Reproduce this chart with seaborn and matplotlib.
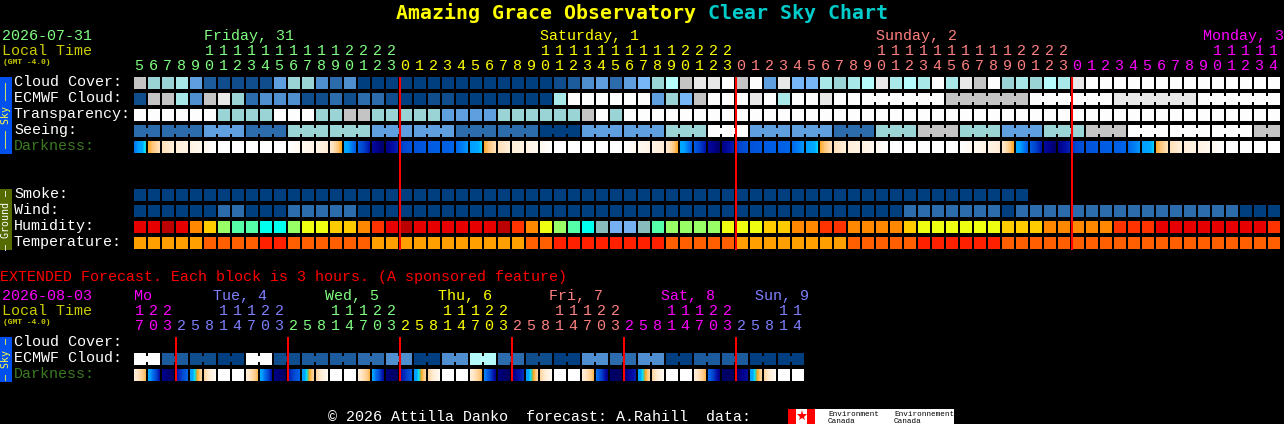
import numpy as np
import matplotlib
matplotlib.use("Agg")
import matplotlib.pyplot as plt
from matplotlib.colors import ListedColormap, LinearSegmentedColormap
from matplotlib.patches import Rectangle
import seaborn as sns

WIDTH, HEIGHT = 1284, 424
X0 = 134
PITCH = 14
CELL = 12
MONO = "Liberation Mono"

# Level colours shared by the sky rows (clear -> overcast), last one is an in-between blue
sky_colors = ["#003f7f", "#0f4d8d", "#2c6cac", "#4f8fcf", "#5f9fdf", "#77b7f7",
              "#9ad4d4", "#a8e8e8", "#b5fbfb", "#c4c4c4", "#e8e8e8", "#fdfdfd", "#1c5c9c"]
humidity_colors = ["#bb0000", "#e60000", "#ff3300", "#ff8800", "#ffcc00", "#eeff11",
                   "#99ff66", "#55ffaa", "#00ffee", "#88bbbb", "#77b0f0"]
temp_colors = ["#ffa000", "#ff5f00", "#ff2000"]

# Hourly rows
cloud = [9, 6, 6, 7, 4, 12, 1, 1, 1, 1, 4, 6, 6, 3, 2, 3, 0, 0, 0, 0, 0,
         0, 0, 0, 0, 0, 0, 0, 0, 0, 1,
         12, 3, 4, 2, 4, 5, 6, 8, 9, 10, 10, 11, 9, 11, 4, 10, 5, 5, 7, 6, 7,
         8, 10, 7, 8, 7, 11, 7, 10, 9, 11, 6, 7, 6, 8, 7, 10,
         11, 11, 11, 11, 11, 11, 11, 11, 11, 11, 11, 11, 11, 11]
ecmwf = [1, 9, 9, 7, 3, 9, 10, 6, 2, 3, 3, 3, 1, 1, 2, 1, 2, 2, 1, 0, 0,
         1, 1, 0, 0, 0, 0, 0, 0, 0,
         7, 11, 11, 11, 11, 11, 11,
         4, 6, 5, 9, 11, 11, 11, 10, 11, 7, 11, 11, 10, 11, 11,
         11, 11, 11, 11, 11, 11, 9, 9, 9, 9, 9, 9, 11, 11, 11, 11, 11, 11,
         10, 10, 10, 10, 10, 10, 11, 11, 11, 11, 11, 11]
ecmwf_runs = [1] * 52 + [6] * 5
transparency = [11, 11, 11, 11, 11, 11, 6, 6, 6, 6, 11, 11, 11, 6, 6, 9, 9,
                6, 6, 6, 6, 6, 4, 4, 4, 4, 6, 6, 6, 6, 6, 6, 9, 11, 6,
                11, 11, 11, 11, 11, 11, 11, 11, 11, 11, 11, 11, 11, 11, 11, 11,
                11, 11, 11, 11, 11, 11, 11, 11, 11, 11, 11, 11, 11, 11, 11, 11,
                11, 11, 11, 11, 11, 11, 11, 11, 11, 11, 11, 11, 11, 11, 11]
seeing_blocks = [2, 2, 4, 2, 6, 6, 4, 4, 2, 2, 0, 4, 4, 6, 11, 4, 4, 2, 6, 9, 6, 4, 6, 9, 11, 11, 11, 9]
seeing_runs = [2] + [3] * 26 + [2]
smoke = [0] * 64
wind = [0, 0, 0, 0, 0, 0, 2, 2, 0, 0, 0, 2, 2, 2, 2, 2, 0, 0, 0, 0, 0,
        0, 0, 0, 0, 0, 0, 0, 0, 0, 0, 0, 0, 0, 0, 0, 0, 0, 0, 0, 0,
        0, 0, 0, 0, 0, 0, 0, 0, 0, 0, 0, 0, 0, 0,
        2, 2, 2, 2, 2, 2, 2, 0, 2, 2, 2, 2, 2, 2, 2, 2, 2, 2, 2, 2, 2, 2, 2, 2,
        0, 0, 0]
humidity = [1, 1, 0, 1, 3, 4, 6, 7, 7, 8, 8, 6, 5, 5, 4, 4, 3, 2, 1, 0, 1,
            1, 1, 1, 1, 1, 0, 2, 3, 5, 6, 7, 8, 9, 10, 10, 9, 7, 6, 6, 6, 6,
            5, 5, 5, 4, 4, 3, 3, 2, 2, 3, 3, 3, 3, 4, 5, 5, 5, 5, 5, 5, 4, 4, 4,
            3, 3, 3, 3, 3, 2, 2, 2, 1, 1, 1, 1, 1, 1, 1, 1, 2]
temperature = [0, 0, 0, 0, 0, 1, 1, 1, 1, 2, 2, 1, 1, 1, 1, 1, 1, 0, 0, 0, 0,
               0, 0, 0, 0, 0, 0, 0, 1, 1, 2, 2, 2, 2, 2, 2, 2, 2, 1, 1, 1, 1, 1,
               0, 0, 0, 0, 0, 0, 0, 0, 1, 1, 1, 1, 1, 2, 2, 2, 2, 2, 2,
               1, 1, 1, 1, 1, 1, 1, 1, 1, 1, 1, 1, 1, 1, 1, 1, 1, 1, 1, 1]

# Darkness, left and right end of each block (roughly limiting magnitude)
dark_start = [2.8,
              -0.3, -2, -3, -3.6, -4.3, -5, -5, -5, -5, -5, -5, -4.4, -3.7, -2.6, 1.3, 3.4, 5.2, 5.6, 4.2, 3.7, 3.4, 3.3, 3.0, 2.1,
              -0.3, -2, -3, -3.6, -4.3, -5, -5, -5, -5, -5, -5, -4.4, -3.7, -2.6, 1.3, 3.4, 5.2, 5.6, 4.2, 3.7, 3.4, 3.3, 3.0, 2.1,
              -0.3, -2, -3, -3.6, -4.3, -5, -5, -5, -5, -5, -5, -4.4, -3.7, -2.6, 1.3, 3.4, 5.2, 5.6, 4.2, 3.7, 3.4, 3.3, 3.0, 2.1,
              -0.3, -2, -3, -3.6, -4.3, -5, -5, -5, -5]
dark_end = [0.6,
            -2, -3, -3.6, -4.3, -5, -5, -5, -5, -5, -5, -4.4, -3.7, -2.8, -0.2, 3.3, 4.9, 5.9, 4.7, 3.7, 3.5, 3.3, 3.1, 2.2, 0.9,
            -2, -3, -3.6, -4.3, -5, -5, -5, -5, -5, -5, -4.4, -3.7, -2.8, -0.2, 3.3, 4.9, 5.9, 4.7, 3.7, 3.5, 3.3, 3.1, 2.2, 0.9,
            -2, -3, -3.6, -4.3, -5, -5, -5, -5, -5, -5, -4.4, -3.7, -2.8, -0.2, 3.3, 4.9, 5.9, 4.7, 3.7, 3.5, 3.3, 3.1, 2.2, 0.9,
            -2, -3, -3.6, -4.3, -5, -5, -5, -5, -5]

# Extended forecast rows
ext_ecmwf_blocks = [11, 12, 1, 0, 11, 1, 12, 12, 2, 3, 0, 3, 8, 2, 1, 0, 3, 2, 3, 0, 12, 12, 0, 0]
ext_ecmwf_runs = [2] * 24
ext_dark_start = [-3, 1.5, 5.5, 5.0, 2.0, -1.5, -5, -5,
                  -3, 1.5, 5.6, 4.8, 2.0, -1.5, -5, -5,
                  -3, 1.8, 5.7, 5.0, 2.0, -1.5, -5, -5,
                  -3, 2.5, 5.7, 5.7, 2.0, -1.5, -5, -5,
                  -3, 2.8, 5.9, 5.7, 2.0, -1.5, -5, -5,
                  -3, 3.0, 5.9, 5.9, 2.0, -1.5, -5, -5]
ext_dark_end = [-0.6, 5.0, 6.0, 3.2, -1.5, -4.5, -5, -5,
                -0.6, 5.0, 6.0, 3.2, -1.5, -4.5, -5, -5,
                -0.6, 5.2, 6.0, 3.5, -1.5, -4.5, -5, -5,
                -0.6, 5.4, 6.0, 4.5, -1.5, -4.5, -5, -5,
                -0.6, 5.6, 6.0, 4.8, -1.5, -4.5, -5, -5,
                -0.6, 5.6, 6.0, 5.2, -1.5, -4.5, -5, -5]

# Time axis
day_names = ["Friday, 31", "Saturday, 1", "Sunday, 2", "Monday, 3"]
day_colors = ["#80ff80", "#ffff00", "#ff8080", "#ff00ff"]
day_label_x = [204, 540, 876, 1203]
day_hours = [[5, 6, 7, 8, 9, 10, 11, 12, 13, 14, 15, 16, 17, 18, 19, 20, 21, 22, 23],
             [0, 1, 2, 3, 4, 5, 6, 7, 8, 9, 10, 11, 12, 13, 14, 15, 16, 17, 18, 19, 20, 21, 22, 23],
             [0, 1, 2, 3, 4, 5, 6, 7, 8, 9, 10, 11, 12, 13, 14, 15, 16, 17, 18, 19, 20, 21, 22, 23],
             [0, 1, 2, 3, 4, 5, 6, 7, 8, 9, 10, 11, 12, 13, 14]]
ext_day_names = ["Mo", "Tue, 4", "Wed, 5", "Thu, 6", "Fri, 7", "Sat, 8", "Sun, 9"]
ext_day_colors = ["#ff00ff", "#7f7fff", "#80ff80", "#ffff00", "#ff8080", "#ff00ff", "#7f7fff"]
ext_day_label_x = [134, 213, 325, 438, 549, 661, 755]
ext_day_hours = [[17, 20, 23],
                 [2, 5, 8, 11, 14, 17, 20, 23],
                 [2, 5, 8, 11, 14, 17, 20, 23],
                 [2, 5, 8, 11, 14, 17, 20, 23],
                 [2, 5, 8, 11, 14, 17, 20, 23],
                 [2, 5, 8, 11, 14, 17, 20, 23],
                 [2, 5, 8, 11, 14]]
midnights = [19, 43, 67]
ext_midnights = [3, 11, 19, 27, 35, 43]

dark_stops = [(-6, "#ffffff"), (-5, "#ffffff"), (-4.3, "#fff8ee"), (-3, "#ffeeda"), (-2, "#ffe0b8"),
              (-1, "#ffc880"), (-0.2, "#ffa820"), (0.2, "#60c080"), (0.8, "#00e0ff"), (1.2, "#00a8ff"),
              (2.0, "#00a0ff"), (3.0, "#0068ec"), (4, "#0048d0"), (5, "#0010a8"), (5.6, "#000088"), (6, "#000060")]
dark_cmap = LinearSegmentedColormap.from_list("dark", [((v + 6) / 12, c) for v, c in dark_stops])

fig = plt.figure(figsize=(WIDTH / 100, HEIGHT / 100), dpi=100, facecolor="black")


def pixel_axes(x, y, w, h):
    ax = fig.add_axes([x / WIDTH, 1 - (y + h) / HEIGHT, w / WIDTH, h / HEIGHT])
    ax.set_facecolor("black")
    return ax


def draw_fine(top, fine, cmap, vmin, vmax):
    # One heatmap column per pixel, the gap columns stay NaN and show the black axes
    ax = pixel_axes(X0, top, fine.shape[1], CELL)
    sns.heatmap(fine, ax=ax, cmap=cmap, vmin=vmin, vmax=vmax, cbar=False,
                xticklabels=False, yticklabels=False)
    return ax


def draw_row(top, values, colors, n_cols=82, runs=None):
    fine = np.full((1, n_cols * PITCH), np.nan)
    for i, v in enumerate(values):
        fine[0, i * PITCH:i * PITCH + CELL] = v
    ax = draw_fine(top, fine, ListedColormap(colors), -0.5, len(colors) - 0.5)
    if runs is not None:
        # Cells of one forecast block are joined by a small bridge
        ax.set_autoscale_on(False)
        start = 0
        for run in runs:
            for j in range(start + 1, start + run):
                ax.bar(j * PITCH - 1, 6 / CELL, width=2, bottom=3 / CELL,
                       color=colors[int(values[start])], linewidth=0)
            start += run


def draw_dark_row(top, starts, ends):
    n_cols = len(starts)
    fine = np.full((1, n_cols * PITCH), np.nan)
    for i, (s, e) in enumerate(zip(starts, ends)):
        fine[0, i * PITCH:i * PITCH + CELL] = np.linspace(s, e, CELL)
    draw_fine(top, fine, dark_cmap, -6, 6)


draw_row(77, cloud, sky_colors)
draw_row(93, ecmwf, sky_colors, runs=ecmwf_runs)
draw_row(109, transparency, sky_colors)
draw_row(125, np.repeat(seeing_blocks, seeing_runs), sky_colors, runs=seeing_runs)
draw_dark_row(141, dark_start, dark_end)
draw_row(189, smoke, sky_colors)
draw_row(205, wind, sky_colors)
draw_row(221, humidity, humidity_colors)
draw_row(237, temperature, temp_colors)
draw_row(353, np.repeat(ext_ecmwf_blocks, ext_ecmwf_runs), sky_colors, n_cols=48, runs=ext_ecmwf_runs)
draw_dark_row(369, ext_dark_start, ext_dark_end)

# Overlay in pixel coordinates for the texts and the red lines
over = fig.add_axes([0, 0, 1, 1], zorder=5)
over.set_xlim(0, WIDTH)
over.set_ylim(HEIGHT, 0)
over.axis("off")


def label(x, y, s, color="white", size=10.8, family=MONO, **kw):
    over.text(x, y, s, color=color, fontsize=size, family=family, va="baseline", **kw)


def hour_labels(hours_per_day, colors, tens_y, units_y):
    i = 0
    for hours, color in zip(hours_per_day, colors):
        for h in hours:
            cx = X0 + PITCH * i + 5
            if h >= 10:
                label(cx, tens_y, str(h // 10), color, ha="center")
            label(cx, units_y, str(h % 10), color, ha="center")
            i += 1


# Title
label(396, 19, "Amazing Grace Observatory", "#ffff00", 14.35, family="DejaVu Sans Mono", fontweight="bold")
label(708, 19, "Clear Sky Chart", "#00cccc", 14.35, family="DejaVu Sans Mono", fontweight="bold")

# Header of the hourly chart
label(2, 40, "2026-07-31", "#80ff80")
label(2, 55, "Local Time", "#cccc00")
label(3, 64, "(GMT -4.0)", "#cccc00", 5.8, fontweight="bold")
for name, color, x in zip(day_names, day_colors, day_label_x):
    label(x, 40, name, color)
hour_labels(day_hours, day_colors, 55, 70)

for y, s, c in [(86, "Cloud Cover:", "white"), (102, "ECMWF Cloud:", "white"), (118, "Transparency:", "white"),
                (134, "Seeing:", "white"), (150, "Darkness:", "#3a7a20"), (198, "Smoke:", "white"),
                (214, "Wind:", "white"), (230, "Humidity:", "white"), (246, "Temperature:", "white"),
                (346, "Cloud Cover:", "white"), (362, "ECMWF Cloud:", "white"), (378, "Darkness:", "#3a7a20")]:
    label(14, y, s, c)

# Side bars
over.add_patch(Rectangle((0, 77), 12, 77, color="#0050f0", linewidth=0))
over.add_patch(Rectangle((0, 189), 12, 61, color="#556b00", linewidth=0))
over.add_patch(Rectangle((0, 337), 12, 45, color="#0050f0", linewidth=0))
for y, s, c in [(115.5, "––– Sky –––", "#ffff40"), (219.5, "– Ground –", "#ffffff"), (359.5, "– Sky –", "#ffff40")]:
    over.text(6, y, s, color=c, fontsize=7.2, family="DejaVu Sans Mono", rotation=90, ha="center", va="center")

# Extended section
label(0, 281, "EXTENDED Forecast. Each block is 3 hours. (A sponsored feature)", "#ff0000")
label(2, 300, "2026-08-03", "#ff00ff")
label(2, 315, "Local Time", "#cccc00")
label(3, 324, "(GMT -4.0)", "#cccc00", 5.8, fontweight="bold")
for name, color, x in zip(ext_day_names, ext_day_colors, ext_day_label_x):
    label(x, 300, name, color)
hour_labels(ext_day_hours, ext_day_colors, 315, 330)

# Midnight lines
over.vlines([X0 + PITCH * m for m in midnights], 77, 250, color="#ff0000", linewidth=1.5)
over.vlines([X0 + PITCH * m for m in ext_midnights], 337, 381, color="#ff0000", linewidth=1.5)

# Footer and logo
label(328, 421, "© 2026 Attilla Danko  forecast: A.Rahill  data:")
over.add_patch(Rectangle((788, 409), 166, 15, color="white", linewidth=0))
over.add_patch(Rectangle((788, 409), 8, 15, color="#ff0000", linewidth=0))
over.add_patch(Rectangle((807, 409), 8, 15, color="#ff0000", linewidth=0))
over.plot([801.5], [416], marker="*", markersize=8, color="#ff0000", markeredgewidth=0)
label(828, 416, "Environment", "black", 5.5)
label(828, 423, "Canada", "black", 5.5)
label(894, 416, "Environnement", "black", 5.5)
label(894, 423, "Canada", "black", 5.5)

fig.savefig("out.png", dpi=100, facecolor="black")
